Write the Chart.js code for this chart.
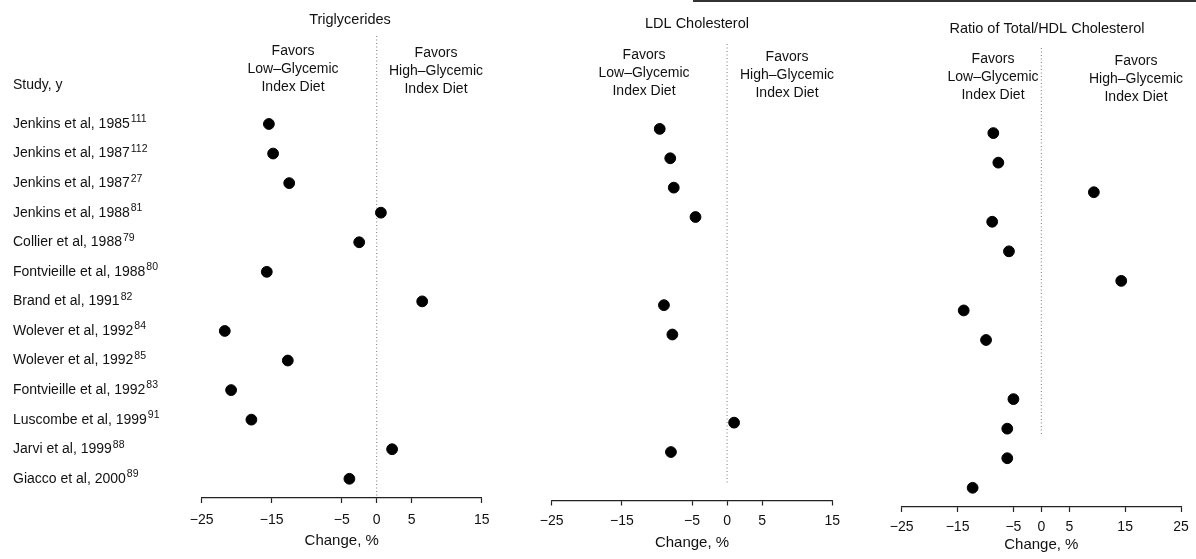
<!DOCTYPE html>
<html>
<head>
<meta charset="utf-8">
<script src="https://cdn.jsdelivr.net/npm/chart.js@4.4.1/dist/chart.umd.min.js"></script>
<style>
  html, body { margin: 0; padding: 0; background: #fff; }
  #wrap { position: relative; width: 1196px; height: 559px; overflow: hidden; }
  #wrap canvas { position: absolute; top: 0; }
  #edge { position: absolute; top: 0; left: 693px; width: 503px; height: 2px; background: #333; }
</style>
</head>
<body>
<div id="wrap">
  <canvas id="tri" width="500" height="559" style="left:0;width:500px;height:559px"></canvas>
  <canvas id="ldl" width="360" height="559" style="left:500px;width:360px;height:559px"></canvas>
  <canvas id="ratio" width="336" height="559" style="left:860px;width:336px;height:559px"></canvas>
  <div id="edge"></div>
</div>
<script>
// studies, top to bottom, and their reference numbers
const studies = [
  'Jenkins et al, 1985', 'Jenkins et al, 1987', 'Jenkins et al, 1987', 'Jenkins et al, 1988',
  'Collier et al, 1988', 'Fontvieille et al, 1988', 'Brand et al, 1991', 'Wolever et al, 1992',
  'Wolever et al, 1992', 'Fontvieille et al, 1992', 'Luscombe et al, 1999', 'Jarvi et al, 1999',
  'Giacco et al, 2000'
];
const refs = ['111', '112', '27', '81', '79', '80', '82', '84', '85', '83', '91', '88', '89'];

// change, % (null = not reported)
const triglycerides = [-15.4, -14.8, -12.5, 0.6, -2.5, -15.7, 6.5, -21.7, -12.7, -20.8, -17.9, 2.2, -3.9];
const ldlCholesterol = [-9.6, -8.1, -7.6, -4.5, null, null, -9.0, -7.8, null, null, 1.0, -8.0, null];
const totalHdlRatio = [-8.6, -7.7, 9.4, -8.8, -5.8, 14.3, -13.9, -9.9, null, -5.0, -6.1, -6.1, -12.3];

const ticksShort = [-25, -15, -5, 0, 5, 15];
const ticksLong = [-25, -15, -5, 0, 5, 15, 25];

const lowLines = ['Favors', 'Low\u2013Glycemic', 'Index Diet'];
const highLines = ['Favors', 'High\u2013Glycemic', 'Index Diet'];

const FONT = '"Liberation Sans", Arial, Helvetica, sans-serif';
const INK = '#111';

const panelText = {
  id: 'panelText',
  beforeDatasetsDraw(chart, args, o) {
    const ctx = chart.ctx;
    const x = chart.scales.x.getPixelForValue(0);
    ctx.save();
    ctx.strokeStyle = '#777';
    ctx.lineWidth = 1;
    ctx.setLineDash([1, 2.5]);
    ctx.beginPath();
    ctx.moveTo(x, o.zeroTop);
    ctx.lineTo(x, o.zeroBottom);
    ctx.stroke();
    ctx.restore();
  },
  afterDraw(chart, args, o) {
    const ctx = chart.ctx;
    ctx.save();
    ctx.fillStyle = INK;
    ctx.textBaseline = 'middle';
    ctx.textAlign = 'center';
    ctx.font = `14.5px ${FONT}`;
    ctx.fillText(o.title.text, o.title.x, o.title.y);
    ctx.font = `14px ${FONT}`;
    lowLines.forEach((t, i) => ctx.fillText(t, o.low.x, o.low.y + i * 18));
    highLines.forEach((t, i) => ctx.fillText(t, o.high.x, o.high.y + i * 18));

    if (o.studyLabels) {
      const ys = chart.scales.y;
      ctx.textAlign = 'left';
      ctx.font = `14px ${FONT}`;
      ctx.fillText('Study, y', 13, 85);
      studies.forEach((s, i) => {
        const y = ys.getPixelForValue(i);
        ctx.font = `14px ${FONT}`;
        ctx.fillText(s, 13, y);
        const w = ctx.measureText(s).width;
        ctx.font = `10.5px ${FONT}`;
        ctx.fillText(refs[i], 13 + w + 1, y - 4.5);
      });
    }
    ctx.restore();
  }
};

function makePanel(id, values, ticks, xMax, p) {
  const points = [];
  values.forEach((v, i) => { if (v !== null) points.push({ x: v, y: i }); });

  new Chart(document.getElementById(id), {
    type: 'scatter',
    data: {
      datasets: [{
        data: points,
        backgroundColor: '#000',
        borderColor: '#000',
        pointRadius: 5.4,
        pointHoverRadius: 5.4
      }]
    },
    options: {
      responsive: false,
      animation: false,
      layout: { padding: { left: p.left, right: p.right, top: p.top, bottom: 0 } },
      plugins: {
        legend: { display: false },
        tooltip: { enabled: false },
        panelText: p.text
      },
      scales: {
        x: {
          type: 'linear',
          min: -25,
          max: xMax,
          afterBuildTicks: (scale) => { scale.ticks = ticks.map(v => ({ value: v })); },
          afterFit: (scale) => { scale.height = p.axisHeight; },
          grid: { display: true, drawOnChartArea: false, drawTicks: true, tickLength: 5, tickColor: '#222', tickWidth: 1.2 },
          border: { display: true, color: '#222', width: 1.2 },
          ticks: {
            color: INK,
            padding: p.tickPad,
            maxRotation: 0,
            autoSkip: false,
            font: { family: FONT, size: 14 },
            callback: (v) => v < 0 ? '\u2212' + Math.abs(v) : String(v)
          },
          title: {
            display: true,
            text: 'Change, %',
            color: INK,
            font: { family: FONT, size: 15 },
            padding: { top: 0, bottom: p.titlePad }
          }
        },
        y: {
          type: 'linear',
          display: false,
          reverse: true,
          min: -0.5,
          max: 12.65
        }
      }
    },
    plugins: [panelText]
  });
}

makePanel('tri', triglycerides, ticksShort, 15, {
  left: 201.7, right: 18.3, top: 109.2, axisHeight: 61, tickPad: 8.5, titlePad: 9,
  text: {
    title: { text: 'Triglycerides', x: 350, y: 20 },
    low: { x: 293, y: 51 },
    high: { x: 436, y: 53 },
    studyLabels: true,
    zeroTop: 36, zeroBottom: 496
  }
});

makePanel('ldl', ldlCholesterol, ticksShort, 15, {
  left: 51.7, right: 27.7, top: 114.2, axisHeight: 58.5, tickPad: 7, titlePad: 7,
  text: {
    title: { text: 'LDL Cholesterol', x: 197, y: 24 },
    low: { x: 144, y: 55 },
    high: { x: 287, y: 57 },
    zeroTop: 44, zeroBottom: 485
  }
});

makePanel('ratio', totalHdlRatio, ticksLong, 25, {
  left: 41.7, right: 15, top: 118.3, axisHeight: 52, tickPad: 6.5, titlePad: 5,
  text: {
    title: { text: 'Ratio of Total/HDL Cholesterol', x: 187, y: 29 },
    low: { x: 133, y: 59 },
    high: { x: 276, y: 61 },
    zeroTop: 48, zeroBottom: 435
  }
});
</script>
</body>
</html>
